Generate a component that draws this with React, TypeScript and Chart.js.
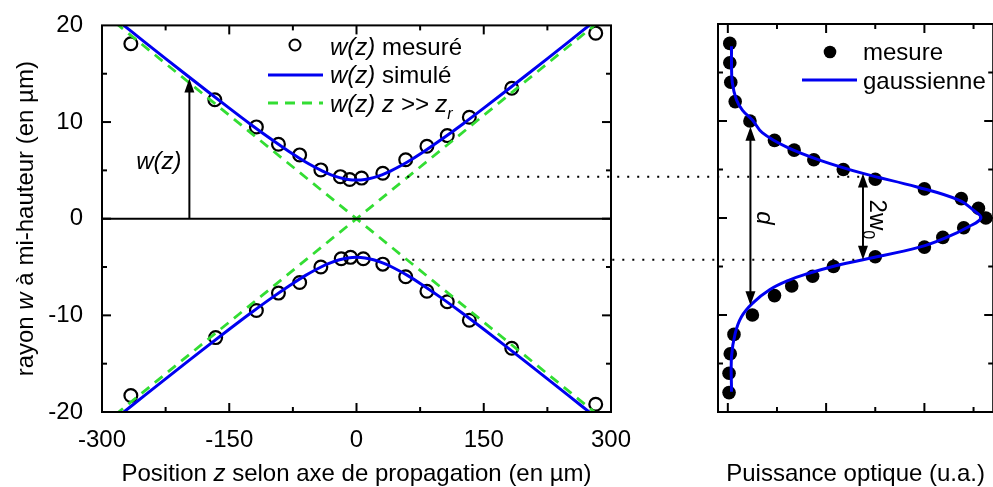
import React, { useEffect, useRef } from 'react';
import { Chart, registerables } from 'chart.js';
Chart.register(...registerables);

const FONT = "'Liberation Sans', Arial, sans-serif";
const BLUE = '#0000f0';
const GREEN = '#33dd33';

// ---- Left panel: beam radius vs z ----
const zMeasUp = [-266, -167, -118, -92, -67, -42, -19, -8, 6, 31, 58, 83, 107, 133, 183, 282];
const wMeasUp = [18.1, 12.3, 9.5, 7.7, 6.6, 5.05, 4.35, 4.05, 4.2, 4.7, 6.1, 7.5, 8.6, 10.5, 13.5, 19.2];
const zMeasDown = [-266, -166, -118, -92, -67, -42, -18, -7, 8, 31, 58, 83, 107, 133, 183, 282];
const wMeasDown = [-18.3, -12.3, -9.5, -7.7, -6.6, -5.0, -4.15, -4.0, -4.15, -4.7, -6.0, -7.5, -8.6, -10.5, -13.4, -19.2];
const zSim = [-300, -280, -250, -200, -150, -125, -100, -80, -60, -40, -30, -20, -10, 0, 10, 20, 30, 40, 60, 80, 100, 125, 150, 200, 250, 280, 300];
const wSimUp = [21.8, 20.4, 18.3, 14.84, 11.44, 9.78, 8.19, 6.98, 5.86, 4.92, 4.54, 4.25, 4.06, 4.0, 4.06, 4.25, 4.54, 4.92, 5.86, 6.98, 8.19, 9.78, 11.44, 14.84, 18.3, 20.4, 21.8];
const wSimDown = [-21.8, -20.4, -18.3, -14.84, -11.44, -9.78, -8.19, -6.98, -5.86, -4.92, -4.54, -4.25, -4.06, -4.0, -4.06, -4.25, -4.54, -4.92, -5.86, -6.98, -8.19, -9.78, -11.44, -14.84, -18.3, -20.4, -21.8];
const zAsym = [-300, 300];
const wAsymRise = [-21.4, 21.4];
const wAsymFall = [21.4, -21.4];
const zTickLabels = [-300, -150, 0, 150, 300];
const wTickLabels = [-20, -10, 0, 10, 20];

// ---- Right panel: optical power profile ----
const yMeas = [18, 16, 14, 12, 10, 8, 7, 6, 5, 4, 3, 2, 1, 0, -1, -2, -3, -4, -5, -6, -7, -8, -10, -12, -14, -16, -18];
const pMeas = [0.008, 0.008, 0.012, 0.03, 0.09, 0.19, 0.27, 0.35, 0.47, 0.6, 0.8, 0.95, 1.02, 1.05, 0.96, 0.875, 0.8, 0.6, 0.43, 0.345, 0.26, 0.19, 0.1, 0.025, 0.01, 0.005, 0.005];
const yFit = [17.7, 16, 14, 12.2, 11.1, 10.1, 8.8, 7.3, 6.0, 4.6, 3.2, 1.85, 0.8, 0, -0.9, -2.0, -3.0, -4.3, -5.05, -5.7, -6.4, -7.4, -8.8, -10.2, -11.9, -14.3, -17.9];
const pFit = [0.015, 0.015, 0.018, 0.035, 0.06, 0.1, 0.14, 0.24, 0.37, 0.55, 0.77, 0.94, 1.0, 1.03, 0.98, 0.89, 0.78, 0.55, 0.42, 0.33, 0.25, 0.17, 0.1, 0.055, 0.03, 0.015, 0.015];

const zip = (xs: number[], ys: number[]) => xs.map((x, i) => ({ x, y: ys[i] }));

type Part = { t: string; it?: boolean; sub?: boolean };
const fontStr = (size: number, italic?: boolean) => `${italic ? 'italic ' : ''}${size}px ${FONT}`;

function richWidth(ctx: CanvasRenderingContext2D, parts: Part[], size: number) {
  let w = 0;
  for (const p of parts) {
    ctx.font = fontStr(p.sub ? size * 0.67 : size, p.it);
    w += ctx.measureText(p.t).width;
  }
  return w;
}

function drawRich(ctx: CanvasRenderingContext2D, parts: Part[], x: number, y: number, size: number, align: 'left' | 'center' = 'left') {
  ctx.save();
  ctx.textBaseline = 'alphabetic';
  ctx.textAlign = 'left';
  ctx.fillStyle = '#000';
  let cx = align === 'center' ? x - richWidth(ctx, parts, size) / 2 : x;
  for (const p of parts) {
    const s = p.sub ? size * 0.67 : size;
    ctx.font = fontStr(s, p.it);
    ctx.fillText(p.t, cx, p.sub ? y + size * 0.3 : y);
    cx += ctx.measureText(p.t).width;
  }
  ctx.restore();
}

function line(ctx: CanvasRenderingContext2D, x1: number, y1: number, x2: number, y2: number) {
  ctx.beginPath();
  ctx.moveTo(x1, y1);
  ctx.lineTo(x2, y2);
  ctx.stroke();
}

function head(ctx: CanvasRenderingContext2D, x: number, tipY: number, dir: number) {
  const L = 14, H = 5;
  ctx.beginPath();
  ctx.moveTo(x, tipY);
  ctx.lineTo(x - H, tipY - dir * L);
  ctx.lineTo(x + H, tipY - dir * L);
  ctx.closePath();
  ctx.fill();
}

function vArrow(ctx: CanvasRenderingContext2D, x: number, yTop: number, yBot: number, topHead: boolean, botHead: boolean) {
  ctx.save();
  ctx.strokeStyle = '#000';
  ctx.fillStyle = '#000';
  ctx.lineWidth = 2;
  line(ctx, x, yTop + (topHead ? 8 : 0), x, yBot - (botHead ? 8 : 0));
  if (topHead) head(ctx, x, yTop, -1);
  if (botHead) head(ctx, x, yBot, 1);
  ctx.restore();
}

function dotted(ctx: CanvasRenderingContext2D, x1: number, x2: number, y: number) {
  ctx.save();
  ctx.strokeStyle = '#000';
  ctx.lineWidth = 2;
  ctx.lineCap = 'butt';
  ctx.setLineDash([2, 8]);
  line(ctx, x1, y, x2, y);
  ctx.restore();
}

const DOT_UP = 4.35;
const DOT_DOWN = -4.25;
const DOT_START_UP = 48;
const DOT_START_DOWN = 54;
const DOT_END = 0.542;
const RIGHT_OFFSET = 700;

const leftDecor = {
  id: 'leftDecor',
  afterDraw(chart: any) {
    const { ctx, chartArea: a, scales } = chart;
    const x = scales.x, y = scales.y;
    ctx.save();
    ctx.strokeStyle = '#000';
    ctx.lineWidth = 2;
    ctx.strokeRect(a.left, a.top, a.right - a.left, a.bottom - a.top);
    const y0 = y.getPixelForValue(0);
    line(ctx, a.left, y0, a.right, y0);
    for (let v = -225; v <= 225; v += 75) {
      const px = x.getPixelForValue(v);
      const len = v % 150 === 0 ? 9 : 5;
      line(ctx, px, a.bottom, px, a.bottom - len);
      line(ctx, px, a.top, px, a.top + len);
    }
    for (let v = -15; v <= 15; v += 5) {
      const py = y.getPixelForValue(v);
      const len = v % 10 === 0 ? 9 : 5;
      line(ctx, a.left, py, a.left + len, py);
      line(ctx, a.right, py, a.right - len, py);
    }
    ctx.restore();

    const ax = x.getPixelForValue(-197);
    vArrow(ctx, ax, y.getPixelForValue(14.5), y0, true, false);
    ctx.save();
    ctx.font = fontStr(24, true);
    ctx.fillStyle = '#000';
    ctx.textAlign = 'center';
    ctx.textBaseline = 'middle';
    ctx.fillText('w(z)', x.getPixelForValue(-233), y.getPixelForValue(5.8));
    ctx.restore();

    dotted(ctx, x.getPixelForValue(DOT_START_UP), chart.width + 10, y.getPixelForValue(DOT_UP));
    dotted(ctx, x.getPixelForValue(DOT_START_DOWN), chart.width + 10, y.getPixelForValue(DOT_DOWN));

    ctx.save();
    ctx.strokeStyle = '#000';
    ctx.lineWidth = 2;
    ctx.beginPath();
    ctx.arc(295, 45, 5.5, 0, Math.PI * 2);
    ctx.stroke();
    ctx.strokeStyle = BLUE;
    ctx.lineWidth = 3;
    line(ctx, 268, 75, 323, 75);
    ctx.strokeStyle = GREEN;
    ctx.lineWidth = 2.8;
    ctx.setLineDash([10, 7]);
    line(ctx, 268, 103, 323, 103);
    ctx.restore();
    drawRich(ctx, [{ t: 'w(z)', it: true }, { t: ' mesuré' }], 330, 55, 24);
    drawRich(ctx, [{ t: 'w(z)', it: true }, { t: ' simulé' }], 330, 83, 24);
    drawRich(ctx, [{ t: 'w(z) z >> z', it: true }, { t: 'r', it: true, sub: true }], 330, 112, 24);

    drawRich(ctx, [{ t: 'Position ' }, { t: 'z', it: true }, { t: ' selon axe de propagation (en µm)' }], (a.left + a.right) / 2, 481, 24, 'center');
    ctx.save();
    ctx.translate(33, (a.top + a.bottom) / 2);
    ctx.rotate(-Math.PI / 2);
    drawRich(ctx, [{ t: 'rayon ' }, { t: 'w', it: true }, { t: ' à mi-hauteur (en µm)' }], 0, 0, 24, 'center');
    ctx.restore();
  },
};

function makeRightDecor(left: any) {
  return {
    id: 'rightDecor',
    afterDraw(chart: any) {
      const { ctx, chartArea: a, scales } = chart;
      const x = scales.x, y = scales.y;
      ctx.save();
      ctx.strokeStyle = '#000';
      ctx.lineWidth = 2;
      ctx.strokeRect(a.left, a.top, a.right - a.left, a.bottom - a.top);
      for (let i = 0; i <= 5; i++) {
        const v = i * 0.2;
        const px = x.getPixelForValue(v);
        const len = i % 2 === 0 ? 9 : 5;
        line(ctx, px, a.bottom, px, a.bottom - len);
        line(ctx, px, a.top, px, a.top + len);
      }
      for (let v = -15; v <= 15; v += 5) {
        const py = y.getPixelForValue(v);
        const len = v % 10 === 0 ? 9 : 5;
        line(ctx, a.left, py, a.left + len, py);
        line(ctx, a.right, py, a.right - len, py);
      }
      ctx.restore();

      const lx = left.scales.x;
      const ly = left.scales.y;
      dotted(ctx, lx.getPixelForValue(DOT_START_UP) - RIGHT_OFFSET, x.getPixelForValue(DOT_END), ly.getPixelForValue(DOT_UP));
      dotted(ctx, lx.getPixelForValue(DOT_START_DOWN) - RIGHT_OFFSET, x.getPixelForValue(DOT_END), ly.getPixelForValue(DOT_DOWN));

      vArrow(ctx, x.getPixelForValue(0.092), y.getPixelForValue(9.4), y.getPixelForValue(-9.0), true, true);
      vArrow(ctx, x.getPixelForValue(0.55), y.getPixelForValue(4.6), y.getPixelForValue(-4.3), true, true);

      ctx.save();
      ctx.translate(x.getPixelForValue(0.12), y.getPixelForValue(0));
      ctx.rotate(Math.PI / 2);
      drawRich(ctx, [{ t: 'd', it: true }], 0, 0, 24, 'center');
      ctx.restore();
      ctx.save();
      ctx.translate(x.getPixelForValue(0.578), y.getPixelForValue(1.9));
      ctx.rotate(Math.PI / 2);
      drawRich(ctx, [{ t: '2w' }, { t: '0', sub: true }], 0, 0, 24, 'left');
      ctx.restore();

      ctx.save();
      ctx.fillStyle = '#000';
      ctx.beginPath();
      ctx.arc(130, 52, 6.3, 0, Math.PI * 2);
      ctx.fill();
      ctx.strokeStyle = BLUE;
      ctx.lineWidth = 3;
      line(ctx, 102, 80, 157, 80);
      ctx.restore();
      drawRich(ctx, [{ t: 'mesure' }], 163, 60, 24);
      drawRich(ctx, [{ t: 'gaussienne' }], 163, 89, 24);

      drawRich(ctx, [{ t: 'Puissance optique (u.a.)' }], (a.left + a.right) / 2, 481, 24, 'center');
    },
  };
}

export default function App() {
  const leftRef = useRef<HTMLCanvasElement>(null);
  const rightRef = useRef<HTMLCanvasElement>(null);

  useEffect(() => {
    document.body.style.margin = '0';
    const tickFont = { family: FONT, size: 24 };
    const left = new Chart(leftRef.current!, {
      type: 'scatter',
      data: {
        datasets: [
          { data: zip(zSim, wSimUp), showLine: true, borderColor: BLUE, borderWidth: 3, pointRadius: 0, tension: 0.4 },
          { data: zip(zSim, wSimDown), showLine: true, borderColor: BLUE, borderWidth: 3, pointRadius: 0, tension: 0.4 },
          { data: zip(zAsym, wAsymRise), showLine: true, borderColor: GREEN, borderWidth: 2.8, borderDash: [10, 7], pointRadius: 0 },
          { data: zip(zAsym, wAsymFall), showLine: true, borderColor: GREEN, borderWidth: 2.8, borderDash: [10, 7], pointRadius: 0 },
          { data: zip(zMeasUp, wMeasUp), pointRadius: 6.4, pointBorderWidth: 2.2, pointBorderColor: '#000', pointBackgroundColor: 'rgba(0,0,0,0)', clip: false },
          { data: zip(zMeasDown, wMeasDown), pointRadius: 6.4, pointBorderWidth: 2.2, pointBorderColor: '#000', pointBackgroundColor: 'rgba(0,0,0,0)', clip: false },
        ] as any,
      },
      options: {
        animation: false,
        responsive: false,
        devicePixelRatio: 1,
        events: [],
        layout: { padding: { left: 0, top: 24, right: 89, bottom: 0 } },
        elements: { line: { capBezierPoints: false } },
        plugins: { legend: { display: false }, tooltip: { enabled: false } },
        scales: {
          x: {
            type: 'linear', min: zTickLabels[0], max: zTickLabels[zTickLabels.length - 1],
            grid: { display: false }, border: { display: false },
            ticks: { stepSize: 150, font: tickFont, color: '#000', padding: 6, maxRotation: 0, autoSkip: false },
            afterFit: (s: any) => { s.height = 75; },
          },
          y: {
            type: 'linear', min: wTickLabels[0], max: wTickLabels[wTickLabels.length - 1],
            grid: { display: false }, border: { display: false },
            ticks: { stepSize: 10, font: tickFont, color: '#000', padding: 11 },
            afterFit: (s: any) => { s.width = 102; },
          },
        },
      } as any,
      plugins: [leftDecor],
    });

    const right = new Chart(rightRef.current!, {
      type: 'scatter',
      data: {
        datasets: [
          { data: zip(pFit, yFit), showLine: true, borderColor: BLUE, borderWidth: 3, pointRadius: 0, tension: 0.4 },
          { data: zip(pMeas, yMeas), pointRadius: 6.8, pointBorderWidth: 0, pointBackgroundColor: '#000', clip: false },
        ] as any,
      },
      options: {
        animation: false,
        responsive: false,
        devicePixelRatio: 1,
        events: [],
        layout: { padding: { left: 18, top: 24, right: 3, bottom: 75 } },
        elements: { line: { capBezierPoints: false } },
        plugins: { legend: { display: false }, tooltip: { enabled: false } },
        scales: {
          x: { type: 'linear', min: -0.04, max: 1.08, display: false },
          y: { type: 'linear', min: -20, max: 20, display: false },
        },
      } as any,
      plugins: [makeRightDecor(left)],
    });

    return () => {
      left.destroy();
      right.destroy();
    };
  }, []);

  return (
    <div style={{ position: 'relative', width: 993, height: 487, overflow: 'hidden', background: '#fff' }}>
      <canvas ref={leftRef} width={700} height={487} style={{ position: 'absolute', left: 0, top: 0, width: 700, height: 487 }} />
      <canvas ref={rightRef} width={300} height={487} style={{ position: 'absolute', left: 700, top: 0, width: 300, height: 487 }} />
    </div>
  );
}
